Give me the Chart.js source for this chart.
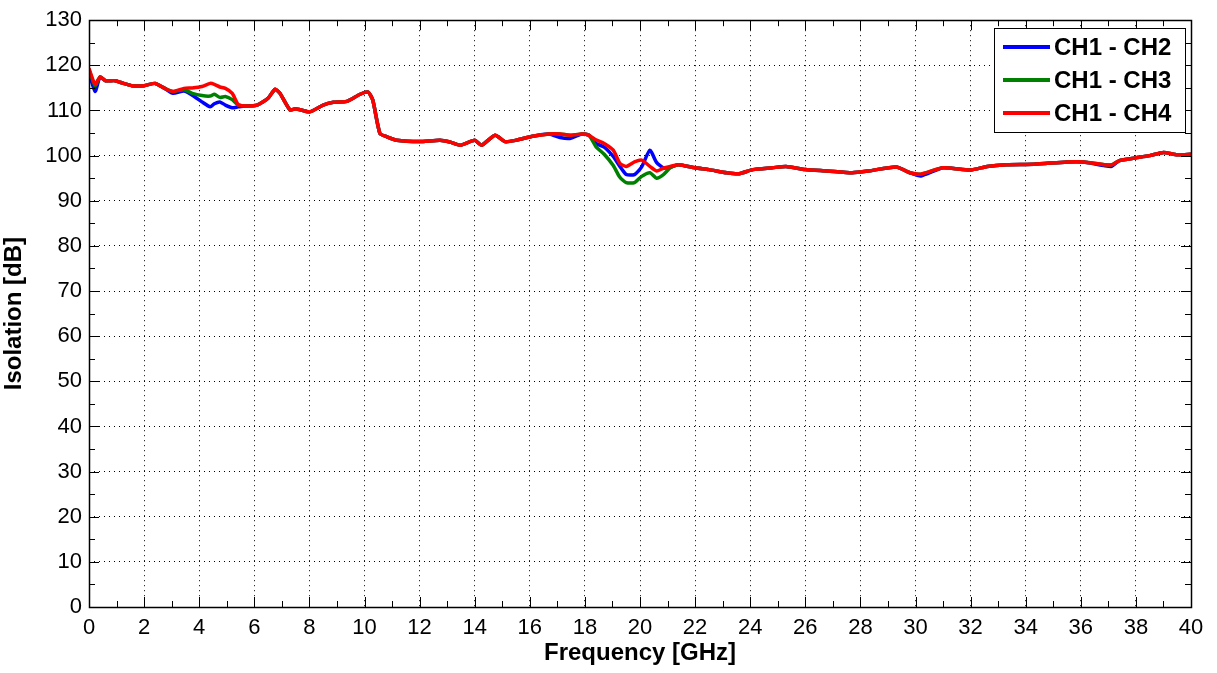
<!DOCTYPE html>
<html>
<head>
<meta charset="utf-8">
<title>Isolation</title>
<script src="https://cdn.jsdelivr.net/npm/chart.js@4.4.1/dist/chart.umd.min.js"></script>
<style>
  html, body { margin: 0; padding: 0; background: #fff; }
  canvas { display: block; }
</style>
</head>
<body>
<canvas id="chart" width="1217" height="673"></canvas>
<script>
// --- data ---
const FREQ = [0, 0.22, 0.4, 0.6, 0.95, 1.25, 1.55, 2.0, 2.4, 2.75,
  3.05, 3.45, 3.75, 4.1, 4.4, 4.55, 4.75, 4.95, 5.2, 5.42,
  5.75, 6.1, 6.5, 6.75, 6.93, 7.3, 7.5, 8.0, 8.5, 8.87,
  9.35, 9.84, 10.13, 10.3, 10.56, 10.8, 11.17, 12.0, 12.74, 13.1,
  13.47, 14.0, 14.25, 14.74, 15.1, 15.5, 16.1, 16.7, 17.1, 17.45,
  17.9, 18.15, 18.4, 18.7, 19.03, 19.27, 19.5, 19.8, 20.06, 20.36,
  20.6, 20.85, 21.1, 21.4, 22.0, 22.5, 23.15, 23.6, 24.1, 24.8,
  25.3, 26.0, 26.8, 27.7, 28.3, 29.3, 29.8, 30.2, 31.0, 32.0,
  32.6, 33.3, 34.3, 35.5, 36.1, 37.1, 37.4, 38.0, 38.5, 39.0,
  39.5, 40.0];

const CH2 = [118.5, 114.2, 117.4, 116.6, 116.6, 116.0, 115.5, 115.5, 116.0, 114.9,
  113.8, 114.3, 113.4, 111.9, 110.8, 111.5, 111.9, 111.2, 110.6, 110.8,
  111.0, 111.2, 112.7, 114.7, 113.8, 110.1, 110.4, 109.7, 111.2, 111.8,
  112.0, 113.6, 114.1, 112.3, 104.9, 104.2, 103.4, 103.1, 103.4, 103.0,
  102.3, 103.4, 102.3, 104.5, 103.1, 103.4, 104.3, 104.8, 104.0, 103.8,
  104.8, 104.5, 102.7, 101.9, 99.8, 97.6, 95.8, 95.8, 97.5, 101.2,
  98.5, 97.3, 97.4, 98.0, 97.3, 96.9, 96.2, 96.0, 96.9, 97.3,
  97.6, 96.9, 96.6, 96.2, 96.6, 97.5, 96.2, 95.5, 97.3, 96.8,
  97.6, 98.0, 98.1, 98.6, 98.6, 97.6, 98.9, 99.5, 100.0, 100.7,
  100.2, 100.3];

const CH3 = [119.0, 115.5, 117.4, 116.6, 116.6, 116.0, 115.5, 115.5, 116.0, 114.9,
  114.2, 114.6, 113.8, 113.3, 113.2, 113.6, 112.9, 113.1, 112.4, 111.2,
  111.0, 111.2, 112.7, 114.7, 113.8, 110.1, 110.4, 109.7, 111.2, 111.8,
  112.0, 113.6, 114.1, 112.3, 104.9, 104.2, 103.4, 103.1, 103.4, 103.0,
  102.3, 103.4, 102.3, 104.5, 103.1, 103.4, 104.3, 104.8, 104.8, 104.5,
  104.8, 104.5, 102.0, 100.3, 97.8, 95.2, 94.0, 94.0, 95.4, 96.2,
  95.0, 95.8, 97.3, 98.0, 97.3, 96.9, 96.2, 96.0, 96.9, 97.3,
  97.6, 96.9, 96.6, 96.2, 96.6, 97.5, 96.2, 95.9, 97.3, 96.8,
  97.6, 98.0, 98.1, 98.6, 98.6, 97.9, 98.9, 99.5, 100.0, 100.7,
  100.2, 100.3];

const CH4 = [119.3, 115.8, 117.4, 116.6, 116.6, 116.0, 115.5, 115.5, 116.0, 114.9,
  114.2, 114.9, 115.0, 115.3, 116.0, 115.8, 115.2, 114.9, 113.8, 111.3,
  111.0, 111.2, 112.7, 114.7, 113.8, 110.1, 110.4, 109.7, 111.2, 111.8,
  112.0, 113.6, 114.1, 112.3, 104.9, 104.2, 103.4, 103.1, 103.4, 103.0,
  102.3, 103.4, 102.3, 104.5, 103.1, 103.4, 104.3, 104.8, 104.8, 104.5,
  104.8, 104.5, 103.5, 102.7, 101.2, 98.3, 97.6, 98.6, 99.0, 97.6,
  96.6, 97.2, 97.6, 98.0, 97.3, 96.9, 96.2, 96.0, 96.9, 97.3,
  97.6, 96.9, 96.6, 96.2, 96.6, 97.5, 96.2, 95.9, 97.3, 96.8,
  97.6, 98.0, 98.1, 98.6, 98.6, 97.9, 98.9, 99.5, 100.0, 100.7,
  100.2, 100.3];

const SERIES_LABELS = ['CH1 - CH2', 'CH1 - CH3', 'CH1 - CH4'];
const SERIES_COLORS = ['#0000ff', '#008000', '#ff0000'];
const X_MIN = 0, X_MAX = 40, X_STEP = 2;
const Y_MIN = 0, Y_MAX = 130, Y_STEP = 10;

const FONT = 'Arial, "Liberation Sans", sans-serif';

function pts(ys) {
  return FREQ.map((f, i) => ({ x: f, y: ys[i] }));
}

// box, inside tick marks and the legend, matlab style
const axesBox = {
  id: 'axesBox',
  afterDraw(chart) {
    const { ctx, chartArea: a, scales } = chart;
    const sx = scales.x, sy = scales.y;
    ctx.save();
    ctx.strokeStyle = '#000';
    ctx.lineWidth = 1;
    ctx.setLineDash([]);
    ctx.beginPath();
    // x ticks, major every 2, minor every 1
    for (let v = X_MIN; v <= X_MAX; v += 1) {
      const px = Math.round(sx.getPixelForValue(v)) + 0.5;
      const len = v % X_STEP === 0 ? 10 : 6;
      ctx.moveTo(px, a.bottom); ctx.lineTo(px, a.bottom - len);
      ctx.moveTo(px, a.top); ctx.lineTo(px, a.top + len);
    }
    // y ticks, major every 10, minor every 5
    for (let v = Y_MIN; v <= Y_MAX; v += 5) {
      const py = Math.round(sy.getPixelForValue(v)) + 0.5;
      const len = v % Y_STEP === 0 ? 10 : 6;
      ctx.moveTo(a.left, py); ctx.lineTo(a.left + len, py);
      ctx.moveTo(a.right, py); ctx.lineTo(a.right - len, py);
    }
    ctx.stroke();
    ctx.lineWidth = 1.5;
    ctx.strokeRect(Math.round(a.left) + 0.5, Math.round(a.top) + 0.5,
      Math.round(a.right - a.left), Math.round(a.bottom - a.top));

    // legend
    const lx = 994, ly = 28, lw = 191, lh = 104;
    ctx.lineWidth = 1;
    ctx.fillStyle = '#fff';
    ctx.fillRect(lx, ly, lw, lh);
    ctx.strokeRect(lx + 0.5, ly + 0.5, lw, lh);
    ctx.font = 'bold 24px ' + FONT;
    ctx.textBaseline = 'middle';
    ctx.textAlign = 'left';
    chart.data.datasets.forEach((ds, i) => {
      const yy = ly + 19 + i * 33;
      ctx.strokeStyle = ds.borderColor;
      ctx.lineWidth = 4;
      ctx.beginPath();
      ctx.moveTo(lx + 9, yy); ctx.lineTo(lx + 56, yy);
      ctx.stroke();
      ctx.fillStyle = '#000';
      ctx.fillText(ds.label, lx + 60, yy + 1);
    });
    ctx.restore();
  }
};

const ctx = document.getElementById('chart').getContext('2d');
new Chart(ctx, {
  type: 'line',
  data: {
    datasets: [
      { label: SERIES_LABELS[0], data: pts(CH2), borderColor: SERIES_COLORS[0], order: 3 },
      { label: SERIES_LABELS[1], data: pts(CH3), borderColor: SERIES_COLORS[1], order: 2 },
      { label: SERIES_LABELS[2], data: pts(CH4), borderColor: SERIES_COLORS[2], order: 1 }
    ].map(d => Object.assign(d, { borderWidth: 3.5, pointRadius: 0, tension: 0.2, fill: false }))
  },
  options: {
    responsive: false,
    animation: false,
    layout: { padding: { top: 20, right: 26, left: 0, bottom: 0 } },
    plugins: { legend: { display: false }, tooltip: { enabled: false } },
    scales: {
      x: {
        type: 'linear', min: X_MIN, max: X_MAX,
        ticks: { stepSize: X_STEP, color: '#000', font: { family: FONT, size: 22 }, padding: 8, maxRotation: 0, autoSkip: false },
        grid: { color: '#000', lineWidth: 1, drawTicks: false },
        border: { display: false, dash: [1, 4] },
        title: { display: true, text: 'Frequency [GHz]', color: '#000',
          font: { family: FONT, size: 24, weight: 'bold' }, padding: { top: 0, bottom: 5 } },
        afterFit(s) { s.height = 66; }
      },
      y: {
        type: 'linear', min: Y_MIN, max: Y_MAX,
        ticks: { stepSize: Y_STEP, color: '#000', font: { family: FONT, size: 22 }, padding: 7, autoSkip: false },
        grid: { color: '#000', lineWidth: 1, drawTicks: false },
        border: { display: false, dash: [1, 4] },
        title: { display: true, text: 'Isolation [dB]', color: '#000',
          font: { family: FONT, size: 24, weight: 'bold' }, padding: { top: 0, bottom: 0 } },
        afterFit(s) { s.width = 89; }
      }
    }
  },
  plugins: [axesBox]
});
</script>
</body>
</html>
